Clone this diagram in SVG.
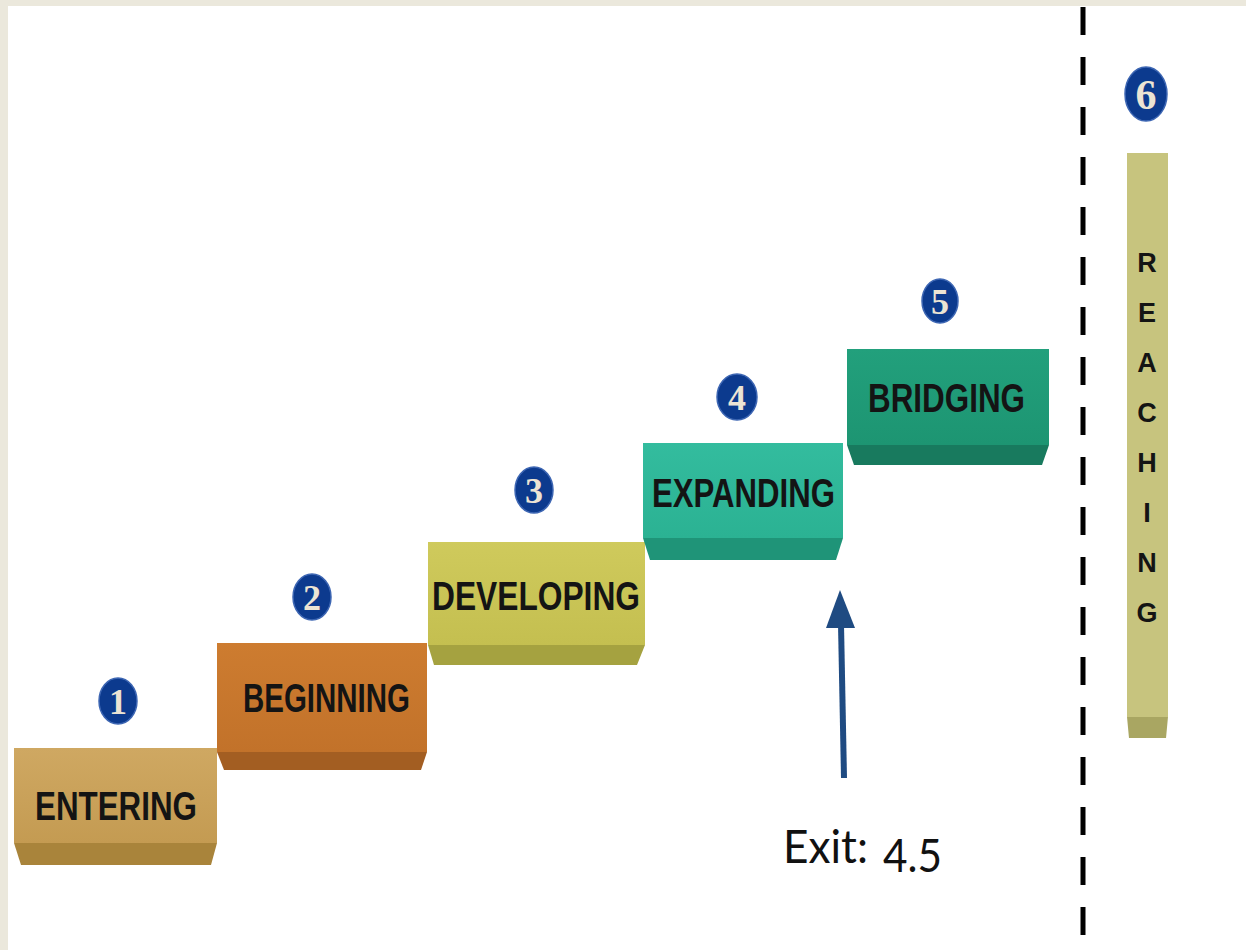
<svg xmlns="http://www.w3.org/2000/svg" width="1246" height="950" viewBox="0 0 1246 950">
<defs>
<style>
.lbl{font-family:"Liberation Sans",Arial,sans-serif;font-weight:bold;font-size:41px;fill:#141414}
.num{font-family:"Liberation Serif","Times New Roman",serif;font-weight:bold;font-size:36px;fill:#ece4d4;text-anchor:middle}
.badge{fill:#0c3a8e;stroke:#3d66b3;stroke-width:1.5}
.vert{font-family:"Liberation Sans",Arial,sans-serif;font-weight:bold;font-size:27px;fill:#141414;text-anchor:middle}
.exit{font-family:"Lato","Open Sans",sans-serif;font-weight:400;font-size:46px;fill:#111}
</style>
<linearGradient id="g1" x1="0" y1="0" x2="0" y2="1"><stop offset="0" stop-color="#cfa862"/><stop offset="1" stop-color="#c49b52"/></linearGradient>
<linearGradient id="g2" x1="0" y1="0" x2="0" y2="1"><stop offset="0" stop-color="#cd7c30"/><stop offset="1" stop-color="#c2722a"/></linearGradient>
<linearGradient id="g3" x1="0" y1="0" x2="0" y2="1"><stop offset="0" stop-color="#cfca5c"/><stop offset="1" stop-color="#c4bf50"/></linearGradient>
<linearGradient id="g4" x1="0" y1="0" x2="0" y2="1"><stop offset="0" stop-color="#33bc9e"/><stop offset="1" stop-color="#2bb293"/></linearGradient>
<linearGradient id="g5" x1="0" y1="0" x2="0" y2="1"><stop offset="0" stop-color="#22a07c"/><stop offset="1" stop-color="#1d9572"/></linearGradient>
</defs>
<rect x="0" y="0" width="1246" height="950" fill="#ffffff"/>
<rect x="0" y="0" width="1246" height="6" fill="#ebe8dc"/>
<rect x="0" y="0" width="8" height="950" fill="#ebe8dc"/>

<line x1="1083" y1="7" x2="1083" y2="935" stroke="#000" stroke-width="5" stroke-dasharray="28 22"/>

<g id="step1">
<rect x="14" y="748" width="203" height="95" fill="url(#g1)"/>
<polygon points="14,843 217,843 211,865 21,865" fill="#a9843b"/>
<text class="lbl" x="35" y="820" textLength="162" lengthAdjust="spacingAndGlyphs">ENTERING</text>
<ellipse class="badge" cx="118" cy="701" rx="19" ry="23"/>
<text class="num" x="118" y="714">1</text>
</g>
<g id="step2">
<rect x="217" y="643" width="210" height="109" fill="url(#g2)"/>
<polygon points="217,752 427,752 421,770 224,770" fill="#a35e22"/>
<text class="lbl" x="243" y="712" textLength="167" lengthAdjust="spacingAndGlyphs">BEGINNING</text>
<ellipse class="badge" cx="312" cy="597" rx="19" ry="23"/>
<text class="num" x="312" y="610">2</text>
</g>
<g id="step3">
<rect x="428" y="542" width="217" height="103" fill="url(#g3)"/>
<polygon points="428,645 645,645 637,665 434,665" fill="#a5a240"/>
<text class="lbl" x="432" y="610" textLength="208" lengthAdjust="spacingAndGlyphs">DEVELOPING</text>
<ellipse class="badge" cx="534" cy="490" rx="19" ry="23"/>
<text class="num" x="534" y="503">3</text>
</g>
<g id="step4">
<rect x="643" y="443" width="200" height="95" fill="url(#g4)"/>
<polygon points="643,538 843,538 836,560 650,560" fill="#1f9478"/>
<text class="lbl" x="652" y="507" textLength="183" lengthAdjust="spacingAndGlyphs">EXPANDING</text>
<ellipse class="badge" cx="737" cy="397" rx="20" ry="23"/>
<text class="num" x="737" y="410">4</text>
</g>
<g id="step5">
<rect x="847" y="349" width="202" height="96" fill="url(#g5)"/>
<polygon points="847,445 1049,445 1042,465 854,465" fill="#187a5e"/>
<text class="lbl" x="868" y="412" textLength="157" lengthAdjust="spacingAndGlyphs">BRIDGING</text>
<ellipse class="badge" cx="940" cy="301" rx="18" ry="22"/>
<text class="num" x="940" y="314">5</text>
</g>
<g id="step6">
<rect x="1127" y="153" width="41" height="564" fill="#c7c47e"/>
<polygon points="1127,717 1168,717 1166,738 1129,738" fill="#a9a662"/>
<text class="vert" x="1147" y="272">R</text>
<text class="vert" x="1147" y="322">E</text>
<text class="vert" x="1147" y="372">A</text>
<text class="vert" x="1147" y="422">C</text>
<text class="vert" x="1147" y="472">H</text>
<text class="vert" x="1147" y="522">I</text>
<text class="vert" x="1147" y="572">N</text>
<text class="vert" x="1147" y="622">G</text>
<ellipse class="badge" cx="1146" cy="94" rx="21" ry="27"/>
<text class="num" x="1146" y="109" style="font-size:42px">6</text>
</g>

<g id="connectors">
<line x1="844" y1="778" x2="841" y2="624" stroke="#1f4b82" stroke-width="6"/>
<polygon points="840,590 826,628 855,628" fill="#1f4b82"/>
</g>

<g id="exit-label">
<text class="exit" x="783" y="863"><tspan textLength="85" lengthAdjust="spacingAndGlyphs">Exit:</tspan><tspan x="883" y="872" textLength="59" lengthAdjust="spacingAndGlyphs">4.5</tspan></text>
</g>
</svg>
